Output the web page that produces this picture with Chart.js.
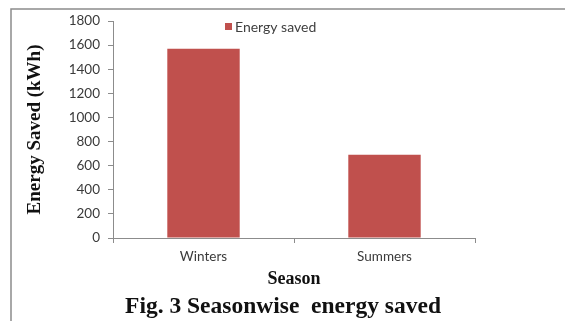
<!DOCTYPE html>
<html>
<head>
<meta charset="utf-8">
<script src="https://cdn.jsdelivr.net/npm/chart.js@4"></script>
<style>
body { margin: 0; background: #fff; }
#chart { display: block; }
</style>
</head>
<body>
<canvas id="chart" width="565" height="321"></canvas>
<script>
var seasons = ["Winters", "Summers"];
var energySaved = [1570, 690];
var seriesName = "Energy saved";
var yTitle = "Energy Saved (kWh)";
var xTitle = "Season";
var caption = "Fig. 3 Seasonwise  energy saved";

var barColor = "#C0504D";
var tickFont = "Lato, 'Open Sans', sans-serif";
var serifFont = "'Liberation Serif', 'Times New Roman', serif";

// page frame, legend inside the plot and the figure caption under it
var framePlugin = {
    id: "frame",
    beforeDraw: function(chart) {
        var ctx = chart.ctx;
        ctx.save();
        ctx.fillStyle = "#fff";
        ctx.fillRect(0, 0, chart.width, chart.height);
        ctx.strokeStyle = "#8c8c8c";
        ctx.lineWidth = 1.5;
        ctx.beginPath();
        ctx.moveTo(11, chart.height);
        ctx.lineTo(11, 9);
        ctx.lineTo(chart.width, 9);
        ctx.stroke();
        ctx.restore();
    },
    afterDraw: function(chart) {
        var ctx = chart.ctx;
        var ds = chart.data.datasets[0];
        ctx.save();
        ctx.fillStyle = ds.backgroundColor;
        ctx.fillRect(225, 23, 7, 7);
        ctx.fillStyle = "#404040";
        ctx.font = "14px " + tickFont;
        ctx.textBaseline = "middle";
        ctx.textAlign = "left";
        ctx.fillText(ds.label, 235, 27);

        ctx.fillStyle = "#111";
        ctx.font = "bold 23.5px " + serifFont;
        ctx.textAlign = "center";
        ctx.textBaseline = "alphabetic";
        ctx.fillText(caption, 283, 313);
        ctx.restore();
    }
};

new Chart(document.getElementById("chart"), {
    type: "bar",
    data: {
        labels: seasons,
        datasets: [{
            label: seriesName,
            data: energySaved,
            backgroundColor: barColor,
            borderWidth: 0,
            barPercentage: 0.4,
            categoryPercentage: 1
        }]
    },
    options: {
        responsive: false,
        animation: false,
        devicePixelRatio: 1,
        layout: { padding: { left: 0, top: 21, right: 90, bottom: 28.4 } },
        plugins: {
            legend: { display: false },
            tooltip: { enabled: false },
            title: { display: false }
        },
        scales: {
            x: {
                afterFit: function(scale) { scale.height = 54.6; },
                grid: { drawOnChartArea: false, drawTicks: true, tickLength: 5, color: "#8c8c8c" },
                border: { color: "#8c8c8c", width: 1 },
                ticks: { color: "#3a3a3a", padding: 6, font: { family: tickFont, size: 13.5 } },
                title: {
                    display: true,
                    text: xTitle,
                    color: "#111",
                    font: { family: serifFont, size: 18, weight: "bold" },
                    padding: { top: 0, bottom: 2 }
                }
            },
            y: {
                min: 0,
                max: 1800,
                afterFit: function(scale) { scale.width = 113; },
                grid: { drawOnChartArea: false, drawTicks: true, tickLength: 5, color: "#8c8c8c" },
                border: { color: "#8c8c8c", width: 1 },
                ticks: {
                    stepSize: 200,
                    color: "#3a3a3a",
                    padding: 8,
                    font: { family: tickFont, size: 13.5 },
                    callback: function(value) { return String(value); }
                },
                title: {
                    display: true,
                    text: yTitle,
                    color: "#111",
                    font: { family: serifFont, size: 19, weight: "bold" },
                    padding: { top: 24, bottom: 0 }
                }
            }
        }
    },
    plugins: [framePlugin]
});
</script>
</body>
</html>
